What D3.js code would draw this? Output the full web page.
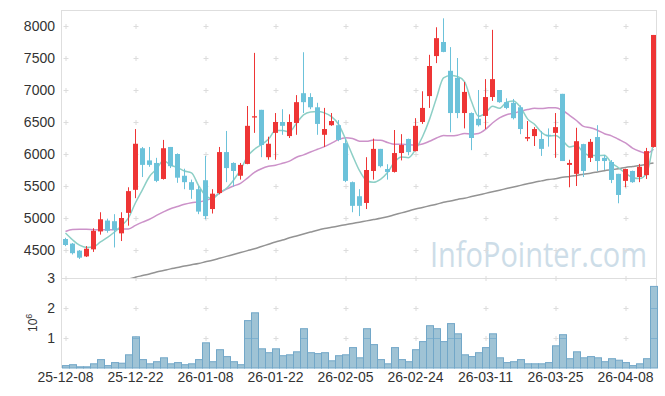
<!DOCTYPE html>
<html>
<head>
<meta charset="utf-8">
<script src="https://cdn.jsdelivr.net/npm/d3@7/dist/d3.min.js"></script>
<style>
  body { margin: 0; background: #fff; }
  svg { display: block; }
</style>
</head>
<body>
<div id="chart"></div>
<script>
// daily candles, 25-12-08 .. 26-04-14
const dates = [
  "25-12-08","25-12-09","25-12-10","25-12-11","25-12-12","25-12-15","25-12-16","25-12-17","25-12-18","25-12-19",
  "25-12-22","25-12-23","25-12-24","25-12-26","25-12-29","25-12-30","26-01-02","26-01-05","26-01-06","26-01-07",
  "26-01-08","26-01-09","26-01-12","26-01-13","26-01-14","26-01-15","26-01-16","26-01-19","26-01-20","26-01-21",
  "26-01-22","26-01-23","26-01-26","26-01-27","26-01-28","26-01-29","26-01-30","26-02-02","26-02-03","26-02-04",
  "26-02-05","26-02-06","26-02-09","26-02-10","26-02-11","26-02-12","26-02-13","26-02-19","26-02-20","26-02-23",
  "26-02-24","26-02-25","26-02-26","26-02-27","26-03-03","26-03-04","26-03-05","26-03-06","26-03-09","26-03-10",
  "26-03-11","26-03-12","26-03-13","26-03-16","26-03-17","26-03-18","26-03-19","26-03-20","26-03-23","26-03-24",
  "26-03-25","26-03-26","26-03-27","26-03-30","26-03-31","26-04-01","26-04-02","26-04-03","26-04-06","26-04-07",
  "26-04-08","26-04-09","26-04-10","26-04-13","26-04-14"
];

const open = [
  4672,4600,4490,4400,4510,4790,4960,4950,4760,5080,
  5440,6090,5900,5860,5610,6110,6000,5660,5560,5450,
  5590,5140,5390,6030,5860,5660,5845,6570,6690,5950,
  6330,6500,6280,6485,6950,6890,6730,6300,6450,6450,
  6170,5560,5340,5235,5735,6080,5765,5720,6015,6235,
  6045,6500,6905,7530,7750,7300,7190,6640,6640,6550,
  6595,6890,7000,6810,6800,6730,6240,6280,6235,6300,
  6330,6940,5830,5690,6155,5940,6265,5940,5875,5690,
  5580,5735,5640,5670,6110
];
const high = [
  4690,4610,4500,4562,4840,5090,4990,5060,5090,5480,
  6390,6110,6110,5940,6220,6110,6010,5770,5600,5500,
  5970,5450,6110,6360,5870,5860,6750,7580,6690,6270,
  6640,6700,6620,6920,7590,6950,6800,6720,6640,6530,
  6240,5570,5450,5950,6240,6080,5840,6375,6310,6240,
  6560,6980,7550,7980,8120,7670,7500,7125,6650,7000,
  7170,7940,7000,6870,6860,6760,6515,6420,6360,6400,
  6640,6940,5910,6410,6160,6235,6450,5985,5905,5690,
  5770,5740,5845,6095,7860
];
const low = [
  4560,4430,4360,4390,4470,4740,4770,4540,4640,4880,
  5310,5640,5800,5560,5600,5780,5550,5450,5300,5060,
  4980,5070,5370,5560,5490,5600,5840,6330,5950,5910,
  5910,6300,6250,6300,6640,6700,6300,6110,6440,6200,
  5560,5090,5030,5140,5600,5790,5600,5710,5900,5980,
  6040,6470,6720,7420,7590,6340,6560,6400,6060,6430,
  6390,6830,6800,6700,6540,6310,6200,6125,5970,6115,
  5940,5890,5480,5500,5640,5875,5735,5750,5545,5230,
  5480,5550,5560,5610,6100
];
const close = [
  4578,4450,4380,4520,4800,4980,4800,4810,5000,5420,
  6160,5830,5830,5580,6090,5810,5630,5560,5440,5100,
  5030,5380,6030,5780,5735,5830,6440,6590,6140,6160,
  6500,6440,6500,6810,6810,6730,6470,6390,6515,6220,
  5580,5190,5190,5750,6080,5810,5720,6015,6140,6030,
  6440,6720,7375,7810,7595,6640,6640,6970,6250,6450,
  6890,7170,6810,6720,6560,6390,6265,6390,6080,6290,
  6420,5890,5860,6200,5735,6190,5890,5890,5595,5360,
  5765,5560,5800,6045,7860
];
const volume = [
  80000,110000,40000,40000,140000,280000,80000,180000,160000,440000,
  1040000,280000,140000,210000,340000,140000,180000,110000,140000,280000,
  840000,210000,610000,380000,210000,110000,1580000,1840000,640000,510000,
  640000,410000,440000,540000,1310000,510000,480000,510000,240000,410000,
  440000,680000,340000,1310000,780000,280000,140000,680000,280000,210000,
  610000,880000,1410000,1310000,880000,1480000,1140000,440000,380000,510000,
  680000,1140000,340000,180000,210000,280000,140000,140000,140000,180000,
  740000,1110000,310000,540000,340000,380000,340000,210000,310000,260000,
  180000,80000,140000,310000,2720000
];

// moving averages as drawn
const ma5 = [
  4766,4660,4575,4540,4546,4626,4696,4782,4878,5002,
  5238,5444,5648,5764,5898,5828,5788,5734,5706,5508,
  5352,5302,5396,5464,5591,5751,5963,6075,6147,6232,
  6366,6366,6348,6482,6612,6658,6664,6642,6583,6465,
  6235,5979,5739,5586,5558,5604,5710,5875,5953,5943,
  6069,6269,6541,6875,7188,7228,7212,7131,6819,6590,
  6640,6746,6714,6808,6830,6730,6549,6465,6337,6283,
  6289,6214,6108,6132,6021,5975,5975,5981,5860,5785,
  5700,5634,5616,5698,6198
];
const ma20 = [
  4790,4820,4823,4823,4818,4815,4815,4820,4825,4830,
  4885,4935,4980,5040,5095,5145,5180,5215,5240,5250,
  5275,5315,5390,5453,5500,5542,5624,5713,5770,5807,
  5824,5855,5888,5950,5986,6032,6074,6115,6169,6225,
  6253,6243,6201,6200,6217,6216,6180,6151,6151,6145,
  6142,6156,6199,6249,6289,6284,6293,6322,6308,6320,
  6385,6484,6565,6614,6638,6667,6694,6713,6710,6723,
  6722,6680,6605,6524,6431,6409,6371,6317,6284,6230,
  6174,6093,6043,6009,6074
];
const ma120 = [
  null,null,null,null,null,null,null,null,null,4045,
  4075,4100,4125,4155,4180,4205,4225,4250,4270,4290,
  4315,4340,4370,4400,4430,4460,4490,4520,4555,4590,
  4625,4655,4690,4720,4750,4780,4810,4835,4855,4875,
  4895,4915,4935,4955,4975,4995,5020,5050,5080,5110,
  5140,5165,5190,5215,5245,5265,5290,5310,5335,5360,
  5385,5410,5435,5460,5485,5510,5535,5560,5580,5600,
  5615,5635,5650,5665,5685,5700,5720,5740,5755,5770,
  5790,5805,5820,5840,5860
];

const priceTicks = [4500, 5000, 5500, 6000, 6500, 7000, 7500, 8000];
const volTicks = [1000000, 2000000, 3000000];
const dateTicks = [0, 10, 20, 30, 40, 50, 60, 70, 80];

const width = 665, height = 396;
const left = 62, right = 657;
const priceTop = 10, priceBottom = 278, volBottom = 368;

const svg = d3.select("#chart").append("svg")
  .attr("width", width)
  .attr("height", height)
  .style("font-family", "'Liberation Sans', Arial, sans-serif");

const x = d3.scaleBand()
  .domain(d3.range(dates.length))
  .range([left, right]);
const cx = i => x(i) + x.bandwidth() / 2;

const yP = d3.scaleLinear().domain([4062.5, 8250]).range([priceBottom, priceTop]);
const yV = d3.scaleLinear().domain([0, 3000000]).range([volBottom, priceBottom]);

svg.append("defs").append("clipPath").attr("id", "clipPrice")
  .append("rect")
  .attr("x", left).attr("y", priceTop)
  .attr("width", right - left).attr("height", priceBottom - priceTop);

// watermark
svg.append("text")
  .attr("x", 430)
  .attr("y", 267)
  .attr("fill", "#cddde8")
  .attr("textLength", 217)
  .attr("lengthAdjust", "spacingAndGlyphs")
  .style("font-family", "'Open Sans', sans-serif")
  .style("font-size", "34px")
  .text("InfoPointer.com");

// frame
const frame = svg.append("g").attr("stroke", "#dedede").attr("fill", "none");
frame.append("line").attr("x1", left - 0.5).attr("x2", left - 0.5).attr("y1", priceTop).attr("y2", volBottom);
frame.append("line").attr("x1", right - 0.5).attr("x2", right - 0.5).attr("y1", priceTop).attr("y2", volBottom);
frame.append("line").attr("x1", left - 0.5).attr("x2", right - 0.5).attr("y1", priceTop + 0.5).attr("y2", priceTop + 0.5);
frame.append("line").attr("x1", left - 0.5).attr("x2", right - 0.5).attr("y1", priceBottom + 0.5).attr("y2", priceBottom + 0.5);

// grid crosses
const crossPts = [];
dateTicks.forEach(i => {
  priceTicks.forEach(p => crossPts.push([cx(i), Math.round(yP(p)) + 0.5]));
  volTicks.forEach(v => crossPts.push([cx(i), Math.round(yV(v)) + 0.5]));
});
svg.append("g").selectAll("path")
  .data(crossPts)
  .join("path")
  .attr("d", d => `M${d[0] - 2},${d[1]}h5M${d[0] + 0.5},${d[1] - 2.5}v5`)
  .attr("stroke", "#dcdcdc")
  .attr("fill", "none");

// y labels
svg.append("g").selectAll("text")
  .data(priceTicks)
  .join("text")
  .attr("x", 55)
  .attr("y", d => yP(d))
  .attr("dy", "0.36em")
  .attr("text-anchor", "end")
  .attr("fill", "#333")
  .style("font-size", "14px")
  .text(d => d);

svg.append("g").selectAll("text")
  .data(volTicks)
  .join("text")
  .attr("x", 55)
  .attr("y", d => yV(d))
  .attr("dy", "0.36em")
  .attr("text-anchor", "end")
  .attr("fill", "#333")
  .style("font-size", "14px")
  .text(d => d / 1e6);

const unit = svg.append("text")
  .attr("transform", "translate(37,332) rotate(-90)")
  .attr("fill", "#333")
  .style("font-size", "12px");
unit.append("tspan").text("10");
unit.append("tspan").attr("dy", -5).style("font-size", "9px").text("6");

// x labels
svg.append("g").selectAll("text")
  .data(dateTicks)
  .join("text")
  .attr("x", d => cx(d))
  .attr("y", 382)
  .attr("text-anchor", "middle")
  .attr("fill", "#333")
  .style("font-size", "14px")
  .text(d => dates[d]);

// volume
const idx = d3.range(dates.length);
svg.append("g").selectAll("rect")
  .data(idx)
  .join("rect")
  .attr("x", i => x(i) + 0.5)
  .attr("y", i => yV(volume[i]))
  .attr("width", x.bandwidth())
  .attr("height", i => volBottom - yV(volume[i]))
  .attr("fill", "#9fc3d5")
  .attr("stroke", "#72a7c8")
  .attr("stroke-width", 1);

// faint grid levels showing through the bars
const barGrid = [];
idx.forEach(i => volTicks.forEach(v => { if (volume[i] > v) barGrid.push([i, v]); }));
svg.append("g").selectAll("line")
  .data(barGrid)
  .join("line")
  .attr("x1", d => x(d[0]) + 1)
  .attr("x2", d => x(d[0]) + x.bandwidth())
  .attr("y1", d => Math.round(yV(d[1])) + 0.5)
  .attr("y2", d => Math.round(yV(d[1])) + 0.5)
  .attr("stroke", "#7fb1cf");

// moving averages
const lines = svg.append("g").attr("clip-path", "url(#clipPrice)");
[[ma120, "#939393"], [ma20, "#cc92c9"], [ma5, "#8dcfc6"]].forEach(([s, col]) => {
  const line = d3.line()
    .defined(i => s[i] != null)
    .x(i => cx(i))
    .y(i => yP(s[i]))
    .curve(d3.curveMonotoneX);
  lines.append("path")
    .datum(idx)
    .attr("fill", "none")
    .attr("stroke", col)
    .attr("stroke-width", 1.5)
    .attr("d", line);
});

// candles
const upCol = "#ee3535", downCol = "#6cc2da";
const candles = svg.append("g").attr("clip-path", "url(#clipPrice)")
  .selectAll("g")
  .data(idx)
  .join("g")
  .attr("fill", i => close[i] >= open[i] ? upCol : downCol)
  .attr("stroke", i => close[i] >= open[i] ? upCol : downCol);

candles.append("line")
  .attr("x1", i => cx(i))
  .attr("x2", i => cx(i))
  .attr("y1", i => yP(high[i]))
  .attr("y2", i => yP(low[i]));

candles.append("rect")
  .attr("x", i => x(i) + 1)
  .attr("width", x.bandwidth() - 2)
  .attr("y", i => yP(Math.max(open[i], close[i])))
  .attr("height", i => Math.max(1, Math.abs(yP(open[i]) - yP(close[i]))))
  .attr("stroke", "none");
</script>
</body>
</html>
